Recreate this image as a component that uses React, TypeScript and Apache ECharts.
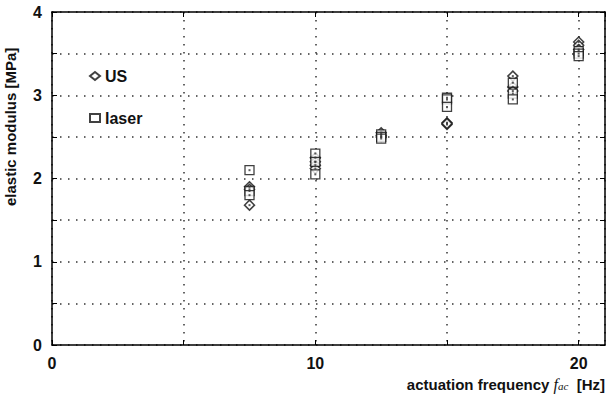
import React, { useEffect, useRef } from "react";
import * as echarts from "echarts";

const xTicks = [0, 10, 20];
const yTicks = [0, 1, 2, 3, 4];
const usX = [7.5, 7.5, 7.5, 10, 10, 10, 10, 12.5, 12.5, 12.5, 15, 15, 15, 17.5, 17.5, 17.5, 20, 20, 20];
const usY = [1.9, 1.87, 1.68, 2.25, 2.2, 2.16, 2.12, 2.55, 2.52, 2.5, 2.67, 2.65, 2.66, 3.23, 3.1, 3.05, 3.64, 3.6, 3.55];
const laserX = [7.5, 7.5, 7.5, 10, 10, 10, 12.5, 12.5, 12.5, 15, 15, 15, 17.5, 17.5, 17.5, 20, 20, 20];
const laserY = [2.1, 1.85, 1.8, 2.3, 2.2, 2.05, 2.53, 2.5, 2.48, 2.97, 2.95, 2.86, 3.15, 3.02, 2.95, 3.53, 3.5, 3.47];

const FONT = "'Liberation Sans', Arial, sans-serif";

export default function App() {
  const ref = useRef<HTMLDivElement>(null);
  useEffect(() => {
    document.body.style.margin = "0";
    if (!ref.current) return;
    const chart = echarts.init(ref.current, null, { renderer: "svg" });
    const us = usX.map((x, i) => [x, usY[i]]);
    const laser = laserX.map((x, i) => [x, laserY[i]]);
    const axisLine = { show: true, onZero: false, lineStyle: { color: "#000", width: 1.5 } };
    const tick = { show: true, inside: true, length: 5, lineStyle: { color: "#000", width: 1 } };
    const grid = { show: true, lineStyle: { color: "#333", width: 1.5, type: [1.5, 6.5] } };
    chart.setOption({
      animation: false,
      grid: { left: 52, right: 3, top: 12, bottom: 53, containLabel: false },
      legend: {
        data: ["US", "laser"],
        orient: "vertical",
        left: 84,
        top: 63,
        itemGap: 26,
        itemWidth: 10,
        itemHeight: 8,
        textStyle: { fontFamily: FONT, fontWeight: "bold", fontSize: 16, color: "#111" },
      },
      xAxis: [
        {
          type: "value", min: 0, max: 21, interval: 5,
          axisLine, axisTick: tick, splitLine: grid,
          axisLabel: {
            show: true, margin: 10, color: "#111", fontFamily: FONT, fontWeight: "bold", fontSize: 16,
            formatter: (v: number) => (xTicks.includes(v) ? String(v) : ""),
            showMaxLabel: false,
          },
        },
        {
          type: "value", min: 0, max: 21, interval: 5, position: "top",
          axisLine, axisTick: tick, splitLine: { show: false }, axisLabel: { show: false },
        },
      ],
      yAxis: [
        {
          type: "value", min: 0, max: 4, interval: 0.5,
          axisLine, axisTick: tick, splitLine: grid,
          axisLabel: {
            show: true, margin: 10, color: "#111", fontFamily: FONT, fontWeight: "bold", fontSize: 16,
            formatter: (v: number) => (yTicks.includes(v) ? String(v) : ""),
          },
        },
        {
          type: "value", min: 0, max: 4, interval: 0.5, position: "right",
          axisLine, axisTick: tick, splitLine: { show: false }, axisLabel: { show: false },
        },
      ],
      series: [
        {
          name: "US", type: "scatter", data: us, symbol: "diamond", symbolSize: 10,
          itemStyle: { color: "#fff", borderColor: "#111", borderWidth: 1.5 },
        },
        {
          name: "laser", type: "scatter", data: laser, symbol: "rect", symbolSize: 9,
          itemStyle: { color: "#fff", borderColor: "#111", borderWidth: 1.3 },
        },
        {
          name: "US-dot", type: "scatter", data: us, symbol: "rect", symbolSize: 2,
          itemStyle: { color: "#333" }, silent: true,
        },
        {
          name: "laser-dot", type: "scatter", data: laser, symbol: "rect", symbolSize: 2,
          itemStyle: { color: "#333" }, silent: true,
        },
      ],
      graphic: [
        {
          type: "text", x: 3, y: 206, rotation: Math.PI / 2,
          style: {
            text: "elastic modulus [MPa]", fill: "#111",
            font: `bold 15px ${FONT}`,
            align: "left", verticalAlign: "top",
          },
        },
        {
          type: "text", x: 605, y: 384,
          style: {
            text: "{b|actuation frequency }{f|f}{s|ac}{b|  [Hz]}",
            align: "right", verticalAlign: "middle",
            rich: {
              b: { font: `bold 15px ${FONT}`, fill: "#111" },
              f: { font: "italic 16px 'Liberation Serif', serif", fill: "#111" },
              s: { font: "italic 11px 'Liberation Serif', serif", fill: "#111", padding: [4, 0, 0, 0] },
            },
          },
        },
      ],
    });
    return () => chart.dispose();
  }, []);
  return <div ref={ref} style={{ width: 608, height: 398 }} />;
}
